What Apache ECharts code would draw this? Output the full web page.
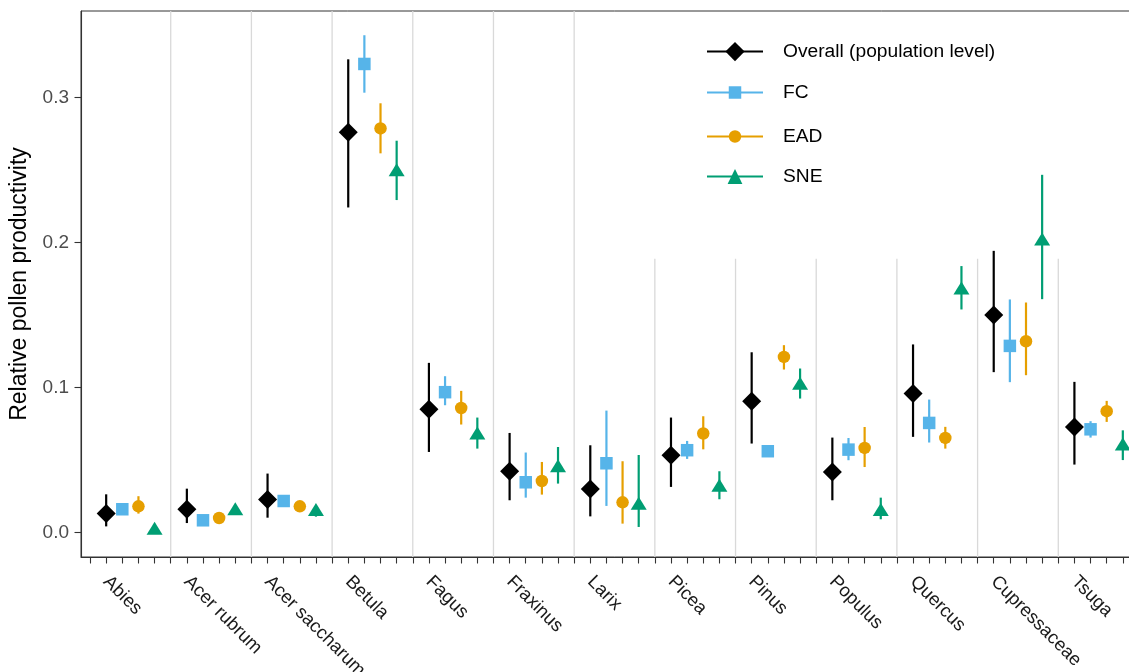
<!DOCTYPE html>
<html>
<head>
<meta charset="utf-8">
<script src="https://cdn.jsdelivr.net/npm/echarts@6/dist/echarts.min.js"></script>
<style>
html,body{margin:0;padding:0;background:#fff;overflow:hidden;width:1129px;height:672px;}
#chart{width:1148px;height:672px;}
</style>
</head>
<body>
<div id="chart"></div>
<script>
// ---------- data ----------
const categories = ['Abies','Acer rubrum','Acer saccharum','Betula','Fagus','Fraxinus','Larix','Picea','Pinus','Populus','Quercus','Cupressaceae','Tsuga'];
const groupNames = ['Overall (population level)','FC','EAD','SNE'];

const overall   = [0.0131,0.0161,0.0228,0.2759,0.0850,0.0423,0.0301,0.0533,0.0906,0.0418,0.0959,0.1499,0.0728];
const overallLo = [0.0043,0.0066,0.0103,0.2241,0.0556,0.0223,0.0112,0.0315,0.0614,0.0223,0.0660,0.1106,0.0469];
const overallHi = [0.0264,0.0303,0.0407,0.3262,0.1170,0.0687,0.0602,0.0793,0.1243,0.0655,0.1297,0.1942,0.1039];

const fc   = [0.0161,0.0085,0.0218,0.3230,0.0968,0.0347,0.0478,0.0568,0.0561,0.0572,0.0756,0.1287,0.0712];
const fcLo = [0.0145,0.0075,0.0205,0.3032,0.0878,0.0241,0.0184,0.0508,0.0550,0.0499,0.0621,0.1037,0.0655];
const fcHi = [0.0175,0.0095,0.0230,0.3428,0.1078,0.0552,0.0841,0.0632,0.0572,0.0652,0.0917,0.1607,0.0768];

const ead   = [0.0181,0.0101,0.0181,0.2786,0.0859,0.0356,0.0209,0.0683,0.1211,0.0584,0.0653,0.1319,0.0837];
const eadLo = [0.0131,0.0095,0.0170,0.2614,0.0745,0.0262,0.0062,0.0574,0.1124,0.0452,0.0579,0.1085,0.0763];
const eadHi = [0.0251,0.0107,0.0192,0.2959,0.0977,0.0487,0.0492,0.0802,0.1292,0.0728,0.0729,0.1586,0.0908];

const sne   = [0.0030,0.0165,0.0159,0.2501,0.0686,0.0461,0.0202,0.0326,0.1030,0.0159,0.1686,0.2023,0.0610];
const sneLo = [0.0025,0.0160,0.0110,0.2292,0.0579,0.0338,0.0039,0.0230,0.0924,0.0092,0.1538,0.1609,0.0500];
const sneHi = [0.0035,0.0170,0.0180,0.2701,0.0793,0.0590,0.0535,0.0423,0.1131,0.0241,0.1837,0.2466,0.0705];

const yTicks = [0, 0.1, 0.2, 0.3];

// ---------- styling ----------
const FONT = '"Liberation Sans", Arial, Helvetica, sans-serif';
const colors = ['#000000','#56B4E9','#E69F00','#009E73'];
const symbols = ['diamond','rect','circle','triangle'];
const symbolSizes = [19, 12.5, 12.5, [16, 13]];
const legendItemHeights = [24, 15.6, 15.6, 18.5];
const legendCenters = [54, 94, 138, 178];
const SLOTS = 5;              // 4 estimates + 1 gap per taxon
const X_MIN = -0.56, X_MAX = categories.length * SLOTS + 0.56;
const Y_MIN = -0.0168, Y_MAX = 0.3595;
const LEGEND_BOTTOM = 0.1887; // grid lines under the legend area stop here
const LEGEND_FROM_SLOT = 35;

const groups = [
  [overall, overallLo, overallHi],
  [fc, fcLo, fcHi],
  [ead, eadLo, eadHi],
  [sne, sneLo, sneHi]
];

const series = [];

// vertical separators between taxa
const sepData = [];
for (let k = 1; k < categories.length; k++) {
  const xv = k * SLOTS;
  sepData.push([xv, xv >= LEGEND_FROM_SLOT ? LEGEND_BOTTOM : Y_MAX]);
}
series.push({
  type: 'custom', silent: true, z: 1,
  data: sepData,
  encode: {x: 0, y: 1},
  renderItem: function (params, api) {
    const p1 = api.coord([api.value(0), Y_MIN]);
    const p2 = api.coord([api.value(0), api.value(1)]);
    return {type: 'line', shape: {x1: p1[0], y1: p1[1], x2: p2[0], y2: p2[1]},
      style: {stroke: '#d9d9d9', lineWidth: 1.3}};
  }
});

// legend proxies (line + symbol icons)
groupNames.forEach((name, g) => {
  series.push({
    type: 'line', name: name, data: [],
    symbol: symbols[g], symbolSize: symbolSizes[g],
    itemStyle: {color: colors[g]},
    lineStyle: {color: colors[g], width: 2.2}
  });
});

// error bars and points
groupNames.forEach((name, g) => {
  const [est, lo, hi] = groups[g];
  const barData = categories.map((c, i) => [i * SLOTS + 1 + g, lo[i], hi[i]]);
  const ptData = categories.map((c, i) => [i * SLOTS + 1 + g, est[i]]);
  series.push({
    type: 'custom', name: name, silent: true, z: 3,
    data: barData,
    encode: {x: 0, y: [1, 2]},
    renderItem: function (params, api) {
      const p1 = api.coord([api.value(0), api.value(1)]);
      const p2 = api.coord([api.value(0), api.value(2)]);
      return {type: 'line', shape: {x1: p1[0], y1: p1[1], x2: p2[0], y2: p2[1]},
        style: {stroke: colors[g], lineWidth: 2.2}};
    }
  });
  series.push({
    type: 'scatter', name: name, silent: true, z: 4,
    data: ptData,
    symbol: symbols[g], symbolSize: symbolSizes[g],
    itemStyle: {color: colors[g], opacity: 1},
    emphasis: {disabled: true}
  });
});

const legends = groupNames.map((name, g) => {
  const ih = legendItemHeights[g];
  const boxH = Math.max(ih, 22);
  return {
    orient: 'vertical', left: 706, top: legendCenters[g] - boxH / 2,
    padding: 0, itemWidth: 56, itemHeight: ih,
    selectedMode: false,
    data: [name],
    textStyle: {fontFamily: FONT, fontSize: 19.2, color: '#000', padding: [0, 0, 0, 15]}
  };
});

const xLabelValues = categories.map((c, i) => i * SLOTS + 1);
const xTickValues = [];
for (let v = 0; v <= categories.length * SLOTS; v++) xTickValues.push(v);

const option = {
  animation: false,
  backgroundColor: '#ffffff',
  grid: {left: 81, top: 11, right: 0, bottom: 115, outerBoundsMode: 'none', containLabel: false,
    show: true, borderColor: '#333333', borderWidth: 1, backgroundColor: 'transparent'},
  legend: legends,
  xAxis: {
    type: 'value', min: X_MIN, max: X_MAX,
    axisLine: {show: true, onZero: false, lineStyle: {color: '#333333', width: 1.1}},
    axisTick: {show: true, length: 6.5, customValues: xTickValues, lineStyle: {color: '#333333', width: 1.1}},
    axisLabel: {
      show: true, customValues: xLabelValues, rotate: -45, margin: 22,
      fontFamily: FONT, fontSize: 18.5, color: '#1a1a1a',
      formatter: function (v) { return categories[Math.round((v - 1) / SLOTS)] || ''; }
    },
    splitLine: {show: false}
  },
  yAxis: {
    type: 'value', min: Y_MIN, max: Y_MAX,
    name: 'Relative pollen productivity', nameLocation: 'middle', nameGap: 50,
    nameTextStyle: {fontFamily: FONT, fontSize: 23, color: '#000'},
    axisLine: {show: true, onZero: false, lineStyle: {color: '#333333', width: 1.1}},
    axisTick: {show: true, length: 6.5, customValues: yTicks, lineStyle: {color: '#333333', width: 1.1}},
    axisLabel: {
      show: true, customValues: yTicks, margin: 12,
      fontFamily: FONT, fontSize: 19, color: '#4d4d4d',
      formatter: function (v) { return v.toFixed(1); }
    },
    splitLine: {show: false}
  },
  series: series
};

const chart = echarts.init(document.getElementById('chart'), null, {renderer: 'canvas'});
chart.setOption(option);
</script>
</body>
</html>
